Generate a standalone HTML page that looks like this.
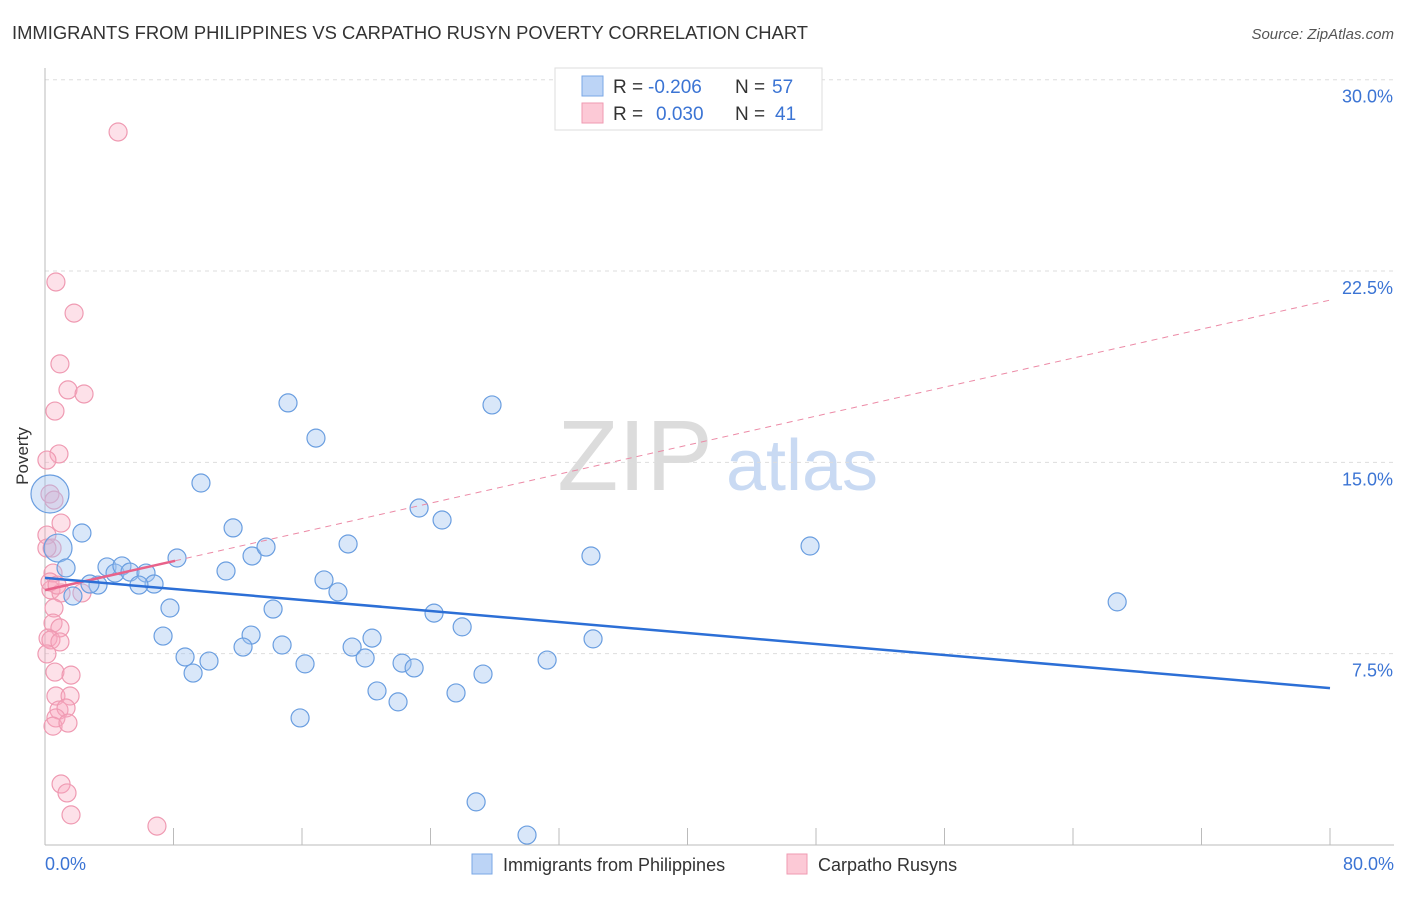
<!DOCTYPE html>
<html><head><meta charset="utf-8"><style>
body{margin:0;background:#fff;font-family:"Liberation Sans",sans-serif;}
svg text{font-family:"Liberation Sans",sans-serif;}
</style></head><body>
<svg width="1406" height="892" xmlns="http://www.w3.org/2000/svg">
<text x="12" y="39" font-size="18.4" fill="#333">IMMIGRANTS FROM PHILIPPINES VS CARPATHO RUSYN POVERTY CORRELATION CHART</text>
<text x="1394" y="39" font-size="15" fill="#555" font-style="italic" text-anchor="end">Source: ZipAtlas.com</text>
<text x="635" y="490" font-size="100" fill="#dcdcdc" font-family="Liberation Serif" text-anchor="middle">ZIP</text>
<text x="802" y="490" font-size="72" fill="#c9daf3" text-anchor="middle">atlas</text>
<g id="grid"></g>
<line x1="45" y1="68" x2="45" y2="845" stroke="#bbb"/>
<line x1="45" y1="845" x2="1394" y2="845" stroke="#bbb"/>
<g id="xticks"></g>
<text x="28" y="456" font-size="17" fill="#333" text-anchor="middle" transform="rotate(-90 28 456)">Poverty</text>
<text x="45" y="870" font-size="18" fill="#3b74d4">0.0%</text>
<text x="1394" y="870" font-size="18" fill="#3b74d4" text-anchor="end">80.0%</text>
<g id="pts"></g>
<g id="trends"></g>
<g>
<rect x="555" y="68" width="267" height="62" fill="#fff" stroke="#ddd"/>
<rect x="582" y="76" width="21" height="20" fill="#bcd4f6" stroke="#7aa7e6"/>
<rect x="582" y="103" width="21" height="20" fill="#fcc9d6" stroke="#ef9ab2"/>
<text x="613" y="93" font-size="19" fill="#333">R =</text>
<text x="648" y="93" font-size="19" fill="#3b74d4">-0.206</text>
<text x="735" y="93" font-size="19" fill="#333">N =</text>
<text x="772" y="93" font-size="19" fill="#3b74d4">57</text>
<text x="613" y="120" font-size="19" fill="#333">R =</text>
<text x="656" y="120" font-size="19" fill="#3b74d4">0.030</text>
<text x="735" y="120" font-size="19" fill="#333">N =</text>
<text x="775" y="120" font-size="19" fill="#3b74d4">41</text>
</g>
<g>
<rect x="472" y="854" width="20" height="20" fill="#bcd4f6" stroke="#7aa7e6"/>
<text x="503" y="871" font-size="18" fill="#333">Immigrants from Philippines</text>
<rect x="787" y="854" width="20" height="20" fill="#fcc9d6" stroke="#ef9ab2"/>
<text x="818" y="871" font-size="18" fill="#333">Carpatho Rusyns</text>
</g>
</svg>
<script>
const yTicks=[7.5,15,22.5,30];
const yTickLabels=["7.5%","15.0%","22.5%","30.0%"];
const xTicks=[8,16,24,32,40,48,56,64,72,80];
const blueX=[0.31,0.81,2.30,1.31,3.86,4.36,4.79,5.29,6.29,6.79,5.85,3.30,2.80,1.74,8.22,7.78,7.35,8.72,9.22,10.21,9.71,11.27,11.71,12.89,13.76,12.83,12.33,14.20,14.76,15.13,16.87,16.19,15.88,17.37,18.24,18.87,19.12,19.93,20.36,20.67,21.98,22.23,22.98,23.29,24.72,24.22,25.97,25.59,27.27,27.83,26.84,30.01,31.26,33.99,34.12,47.63,66.75];
const blueY=[13.76,11.64,12.23,10.86,10.90,10.66,10.94,10.70,10.66,10.23,10.19,10.19,10.23,9.76,11.25,9.29,8.19,7.37,6.74,7.21,14.19,10.74,12.43,11.33,11.68,8.23,7.76,9.25,7.84,17.33,15.95,7.10,4.98,10.39,9.92,11.80,7.76,7.33,8.11,6.04,5.61,7.13,6.94,13.21,12.74,9.09,8.55,5.96,6.70,17.25,1.69,0.39,7.25,11.33,8.08,11.72,9.53];
const blueR=[19,14,9,9,9,9,9,9,9,9,9,9,9,9,9,9,9,9,9,9,9,9,9,9,9,9,9,9,9,9,9,9,9,9,9,9,9,9,9,9,9,9,9,9,9,9,9,9,9,9,9,9,9,9,9,9,9];
const pinkX=[4.55,0.68,1.81,0.93,1.43,2.43,0.62,0.87,0.12,0.31,1.00,0.12,0.44,0.50,0.37,1.00,2.30,0.56,0.50,0.93,0.19,0.37,0.93,0.12,0.62,1.62,0.68,1.56,0.87,1.31,0.68,0.50,1.43,1.00,1.37,1.62,6.97,0.12,0.31,0.56,0.75];
const pinkY=[27.95,22.07,20.85,18.86,17.84,17.68,17.01,15.33,15.09,13.76,12.62,12.15,11.64,10.66,10.00,9.88,9.88,9.29,8.70,8.51,8.11,8.04,7.96,7.49,6.78,6.66,5.84,5.84,5.29,5.37,4.98,4.66,4.78,2.39,2.04,1.18,0.74,11.64,10.31,13.52,10.19];
const blueTrend=[10.47,6.15];
const pinkTrend=[9.99,21.36];
const pinkSolidEnd=8.1;
const NS="http://www.w3.org/2000/svg";
const xs=v=>45+v/80*1285, ys=v=>845-v*25.51;
function mk(t,a,p){const e=document.createElementNS(NS,t);for(const k in a)e.setAttribute(k,a[k]);p.appendChild(e);return e;}
const grid=document.getElementById('grid');
yTicks.forEach((t,i)=>{
 const l=mk('line',{x1:45,x2:1394,y1:ys(t),y2:ys(t),stroke:'#ddd','stroke-dasharray':'4,4'},grid);
 
 
 const tx=mk('text',{x:1393,y:ys(t)+23,'font-size':18,fill:'#3b74d4','text-anchor':'end'},grid);
 tx.textContent=yTickLabels[i];
 
 
});
const xt=document.getElementById('xticks');
xTicks.forEach(t=>{
 const l=mk('line',{x1:xs(t),x2:xs(t),y1:828,y2:845,stroke:'#bbb'},xt);
 
 
});
const pts=document.getElementById('pts');
pinkX.forEach((x,i)=>{
 const c=mk('circle',{cx:xs(x),cy:ys(pinkY[i]),r:9,fill:'rgba(248,170,192,0.35)',stroke:'#ef9ab2','stroke-width':1.2},pts);
 
 
});
blueX.forEach((x,i)=>{
 const c=mk('circle',{cx:xs(x),cy:ys(blueY[i]),r:blueR[i],fill:'rgba(160,196,240,0.4)',stroke:'#6a9ee0','stroke-width':1.2},pts);
 
 
});
const tr=document.getElementById('trends');
const py=x=>pinkTrend[0]+(pinkTrend[1]-pinkTrend[0])*x/80;
let a=mk('line',{x1:xs(pinkSolidEnd),y1:ys(py(pinkSolidEnd)),x2:xs(80),y2:ys(pinkTrend[1]),stroke:'#ec8aa6','stroke-width':1,'stroke-dasharray':'6,5'},tr);


let b=mk('line',{x1:xs(0),y1:ys(pinkTrend[0]),x2:xs(pinkSolidEnd),y2:ys(py(pinkSolidEnd)),stroke:'#e8628a','stroke-width':2.5},tr);


let c=mk('line',{x1:xs(0),y1:ys(blueTrend[0]),x2:xs(80),y2:ys(blueTrend[1]),stroke:'#2c6fd6','stroke-width':2.5},tr);


</script>
</body></html>
